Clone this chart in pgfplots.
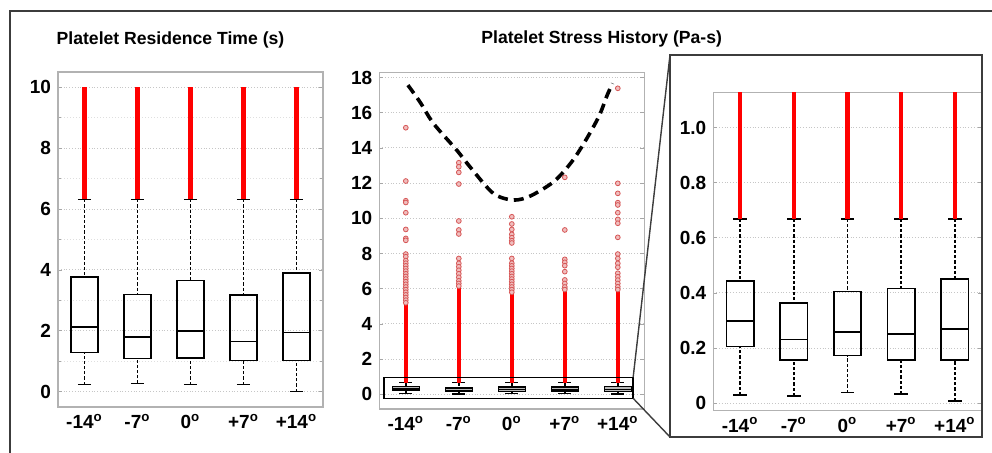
\documentclass[border=0pt]{standalone}
\usepackage{pgfplots}
\pgfplotsset{compat=1.18}
\usepgfplotslibrary{statistics}
\usepackage{fontspec}
\setmainfont{Liberation Sans}
\definecolor{outl}{RGB}{214,86,86}
\definecolor{outfill}{RGB}{240,190,190}
\definecolor{framec}{RGB}{60,60,60}

% 1 px of the reference = 0.5pt
\pgfplotsset{
  /pgfplots/boxplot/draw/lower whisker/.code={%
    \draw[/pgfplots/boxplot/every whisker/.try]
      (boxplot box cs:\pgfplotsboxplotvalue{lower whisker},0.5)
      -- (boxplot box cs:\pgfplotsboxplotvalue{lower quartile},0.5);
    \draw[black, solid, line width=0.7pt]
      (boxplot whisker cs:\pgfplotsboxplotvalue{lower whisker},0)
      -- (boxplot whisker cs:\pgfplotsboxplotvalue{lower whisker},1);
  },
  /pgfplots/boxplot/draw/upper whisker/.code={%
    \draw[/pgfplots/boxplot/every whisker/.try]
      (boxplot box cs:\pgfplotsboxplotvalue{upper whisker},0.5)
      -- (boxplot box cs:\pgfplotsboxplotvalue{upper quartile},0.5);
    \draw[black, solid, line width=0.7pt]
      (boxplot whisker cs:\pgfplotsboxplotvalue{upper whisker},0)
      -- (boxplot whisker cs:\pgfplotsboxplotvalue{upper whisker},1);
  },
  panel/.style={
    scale only axis, anchor=south west,
    xmin=0.5, xmax=5.5,
    xtick={1,2,3,4,5},
    xticklabels={-14\textsuperscript{o},-7\textsuperscript{o},0\textsuperscript{o},+7\textsuperscript{o},+14\textsuperscript{o}},
    xtick style={draw=none},
    ytick style={gray!70, line width=0.4pt},
    major tick length=2pt, minor tick length=1.5pt,
    axis line style={gray!60, line width=0.6pt},
    ymajorgrids, grid style={gray!45, densely dotted, line width=0.5pt},
    tick label style={font=\bfseries\fontsize{9.5}{10}\selectfont},
    /pgf/number format/assume math mode=true,
    boxplot/draw direction=y,
    boxplot/box extend=0.51,
    boxplot/whisker extend=0.25,
    boxplot/every box/.style={black, line width=0.7pt},
    boxplot/every median/.style={black, line width=0.7pt},
    boxplot/every whisker/.style={black, line width=0.8pt, dash pattern=on 1.6pt off 1pt},
  },
  redline/.style={red, line width=2.3pt, unbounded coords=jump, forget plot},
  outlier/.style={only marks, mark=*, mark size=1.2pt, mark options={draw=outl, fill=outfill, line width=0.4pt}, forget plot},
}

\begin{document}
\begin{tikzpicture}
\path[use as bounding box] (0,0) rectangle (496pt,226.5pt);

% outer frame (left and top edges)
\draw[framec, line width=1pt] (5pt,0) -- (5pt,221pt) -- (496pt,221pt);

\node[font=\bfseries\fontsize{8.8}{10}\selectfont] at (85.25pt,206.5pt) {Platelet Residence Time (s)};
\node[font=\bfseries\fontsize{8.8}{10}\selectfont] at (300.85pt,207.25pt) {Platelet Stress History (Pa-s)};

% ---------- residence time ----------
\begin{axis}[panel,
  at={(29pt,23pt)}, width=132.5pt, height=167.5pt,
  ymin=-0.5, ymax=10.5,
  ytick={0,2,...,10},
  minor ytick={1,3,...,9}, yminorgrids,
  minor grid style={gray!25, densely dotted, line width=0.4pt},
]
\addplot[boxplot prepared={draw position=1, lower whisker=0.23, lower quartile=1.29, median=2.12, upper quartile=3.77, upper whisker=6.32}] coordinates {};
\addplot[boxplot prepared={draw position=2, lower whisker=0.27, lower quartile=1.09, median=1.80, upper quartile=3.19, upper whisker=6.32}] coordinates {};
\addplot[boxplot prepared={draw position=3, lower whisker=0.23, lower quartile=1.11, median=2.00, upper quartile=3.66, upper whisker=6.32}] coordinates {};
\addplot[boxplot prepared={draw position=4, lower whisker=0.23, lower quartile=1.02, median=1.65, upper quartile=3.18, upper whisker=6.32}] coordinates {};
\addplot[boxplot prepared={draw position=5, lower whisker=0.00, lower quartile=1.02, median=1.95, upper quartile=3.90, upper whisker=6.32}] coordinates {};
\addplot[redline] coordinates {(1,6.32) (1,10) (1,nan) (2,6.32) (2,10) (2,nan) (3,6.32) (3,10) (3,nan) (4,6.32) (4,10) (4,nan) (5,6.32) (5,10)};
\end{axis}

% ---------- stress history ----------
\begin{axis}[panel,
  at={(189.65pt,22pt)}, width=132.5pt, height=168.35pt,
  ymin=-0.835, ymax=18.3,
  ytick={0,2,...,18},
]
\addplot[boxplot prepared={draw position=1, lower whisker=0.030, lower quartile=0.205, median=0.299, upper quartile=0.444, upper whisker=0.669}, boxplot/every box/.append style={fill=gray!55}] coordinates {};
\addplot[boxplot prepared={draw position=2, lower whisker=0.026, lower quartile=0.157, median=0.232, upper quartile=0.363, upper whisker=0.669}, boxplot/every box/.append style={fill=gray!55}] coordinates {};
\addplot[boxplot prepared={draw position=3, lower whisker=0.038, lower quartile=0.173, median=0.258, upper quartile=0.405, upper whisker=0.669}, boxplot/every box/.append style={fill=gray!55}] coordinates {};
\addplot[boxplot prepared={draw position=4, lower whisker=0.033, lower quartile=0.157, median=0.251, upper quartile=0.417, upper whisker=0.669}, boxplot/every box/.append style={fill=gray!55}] coordinates {};
\addplot[boxplot prepared={draw position=5, lower whisker=0.008, lower quartile=0.157, median=0.270, upper quartile=0.450, upper whisker=0.669}, boxplot/every box/.append style={fill=gray!55}] coordinates {};
\addplot[redline] coordinates {(1,0.669) (1,5.2) (1,nan) (2,0.669) (2,6.1) (2,nan) (3,0.669) (3,5.75) (3,nan) (4,0.669) (4,5.85) (4,nan) (5,0.669) (5,5.85)};
\addplot[outlier] coordinates {
 (1,15.15) (1,12.12) (1,11.0) (1,10.9) (1,10.32) (1,9.37) (1,8.86) (1,8.75) (1,7.97) (1,7.82)
 (1,7.6) (1,7.45) (1,7.3) (1,7.15) (1,7.0) (1,6.85) (1,6.7) (1,6.55) (1,6.4) (1,6.25) (1,6.1)
 (1,5.95) (1,5.8) (1,5.65) (1,5.5) (1,5.35) (1,5.2)
 (2,13.16) (2,12.93) (2,12.61) (2,11.95) (2,9.85) (2,9.34) (2,9.11) (2,7.72) (2,7.44) (2,7.25)
 (2,7.05) (2,6.85) (2,6.65) (2,6.45) (2,6.3) (2,6.15)
 (3,10.09) (3,9.68) (3,9.37) (3,9.09) (3,8.9) (3,8.73) (3,8.6) (3,7.72) (3,7.45) (3,7.3)
 (3,7.15) (3,7.0) (3,6.85) (3,6.7) (3,6.55) (3,6.4) (3,6.25) (3,6.1) (3,5.95) (3,5.8)
 (4,12.33) (4,9.34) (4,7.67) (4,7.5) (4,7.31) (4,6.97) (4,6.5) (4,6.3) (4,6.1) (4,5.95)
 (5,17.39) (5,11.99) (5,11.42) (5,10.89) (5,10.76) (5,10.32) (5,9.94) (5,9.72) (5,8.92) (5,7.97)
 (5,7.72) (5,7.44) (5,7.22) (5,6.88) (5,6.68) (5,6.49) (5,6.3) (5,6.11) (5,5.95)
};
\addplot[black, line width=1.8pt, dash pattern=on 5pt off 3pt, smooth, forget plot] coordinates {
 (1.04,17.57) (1.27,16.6) (1.52,15.4) (1.96,13.88) (2.21,12.93) (2.65,11.42) (3.03,11.04)
 (3.35,11.27) (3.79,12.08) (4.11,13.13) (4.36,14.26) (4.64,15.77) (4.80,17.0) (4.90,17.67)
};
\draw[black, line width=0.7pt] (axis cs:0.59,-0.23) rectangle (axis cs:5.29,0.97);
\coordinate (insTR) at (axis cs:5.29,0.97);
\coordinate (insBR) at (axis cs:5.29,-0.23);
\end{axis}

% ---------- zoomed stress history ----------
\begin{axis}[panel,
  at={(356.65pt,21.15pt)}, width=134.2pt, height=159.2pt,
  ymin=-0.027, ymax=1.128,
  ytick={0,0.2,0.4,0.6,0.8,1.0},
  yticklabels={0,0.2,0.4,0.6,0.8,1.0},
]
\addplot[boxplot prepared={draw position=1, lower whisker=0.030, lower quartile=0.205, median=0.299, upper quartile=0.444, upper whisker=0.669}] coordinates {};
\addplot[boxplot prepared={draw position=2, lower whisker=0.026, lower quartile=0.157, median=0.232, upper quartile=0.363, upper whisker=0.669}] coordinates {};
\addplot[boxplot prepared={draw position=3, lower whisker=0.038, lower quartile=0.173, median=0.258, upper quartile=0.405, upper whisker=0.669}] coordinates {};
\addplot[boxplot prepared={draw position=4, lower whisker=0.033, lower quartile=0.157, median=0.251, upper quartile=0.417, upper whisker=0.669}] coordinates {};
\addplot[boxplot prepared={draw position=5, lower whisker=0.008, lower quartile=0.157, median=0.270, upper quartile=0.450, upper whisker=0.669}] coordinates {};
\addplot[redline] coordinates {(1,0.669) (1,1.2) (1,nan) (2,0.669) (2,1.2) (2,nan) (3,0.669) (3,1.2) (3,nan) (4,0.669) (4,1.2) (4,nan) (5,0.669) (5,1.2)};
\end{axis}

% zoom box and connectors
\draw[framec, line width=1pt] (335pt,8pt) rectangle (491.15pt,199pt);
\draw[framec, line width=0.7pt] (insTR) -- (335pt,199pt);
\draw[framec, line width=0.7pt] (insBR) -- (335pt,8pt);
\end{tikzpicture}
\end{document}
